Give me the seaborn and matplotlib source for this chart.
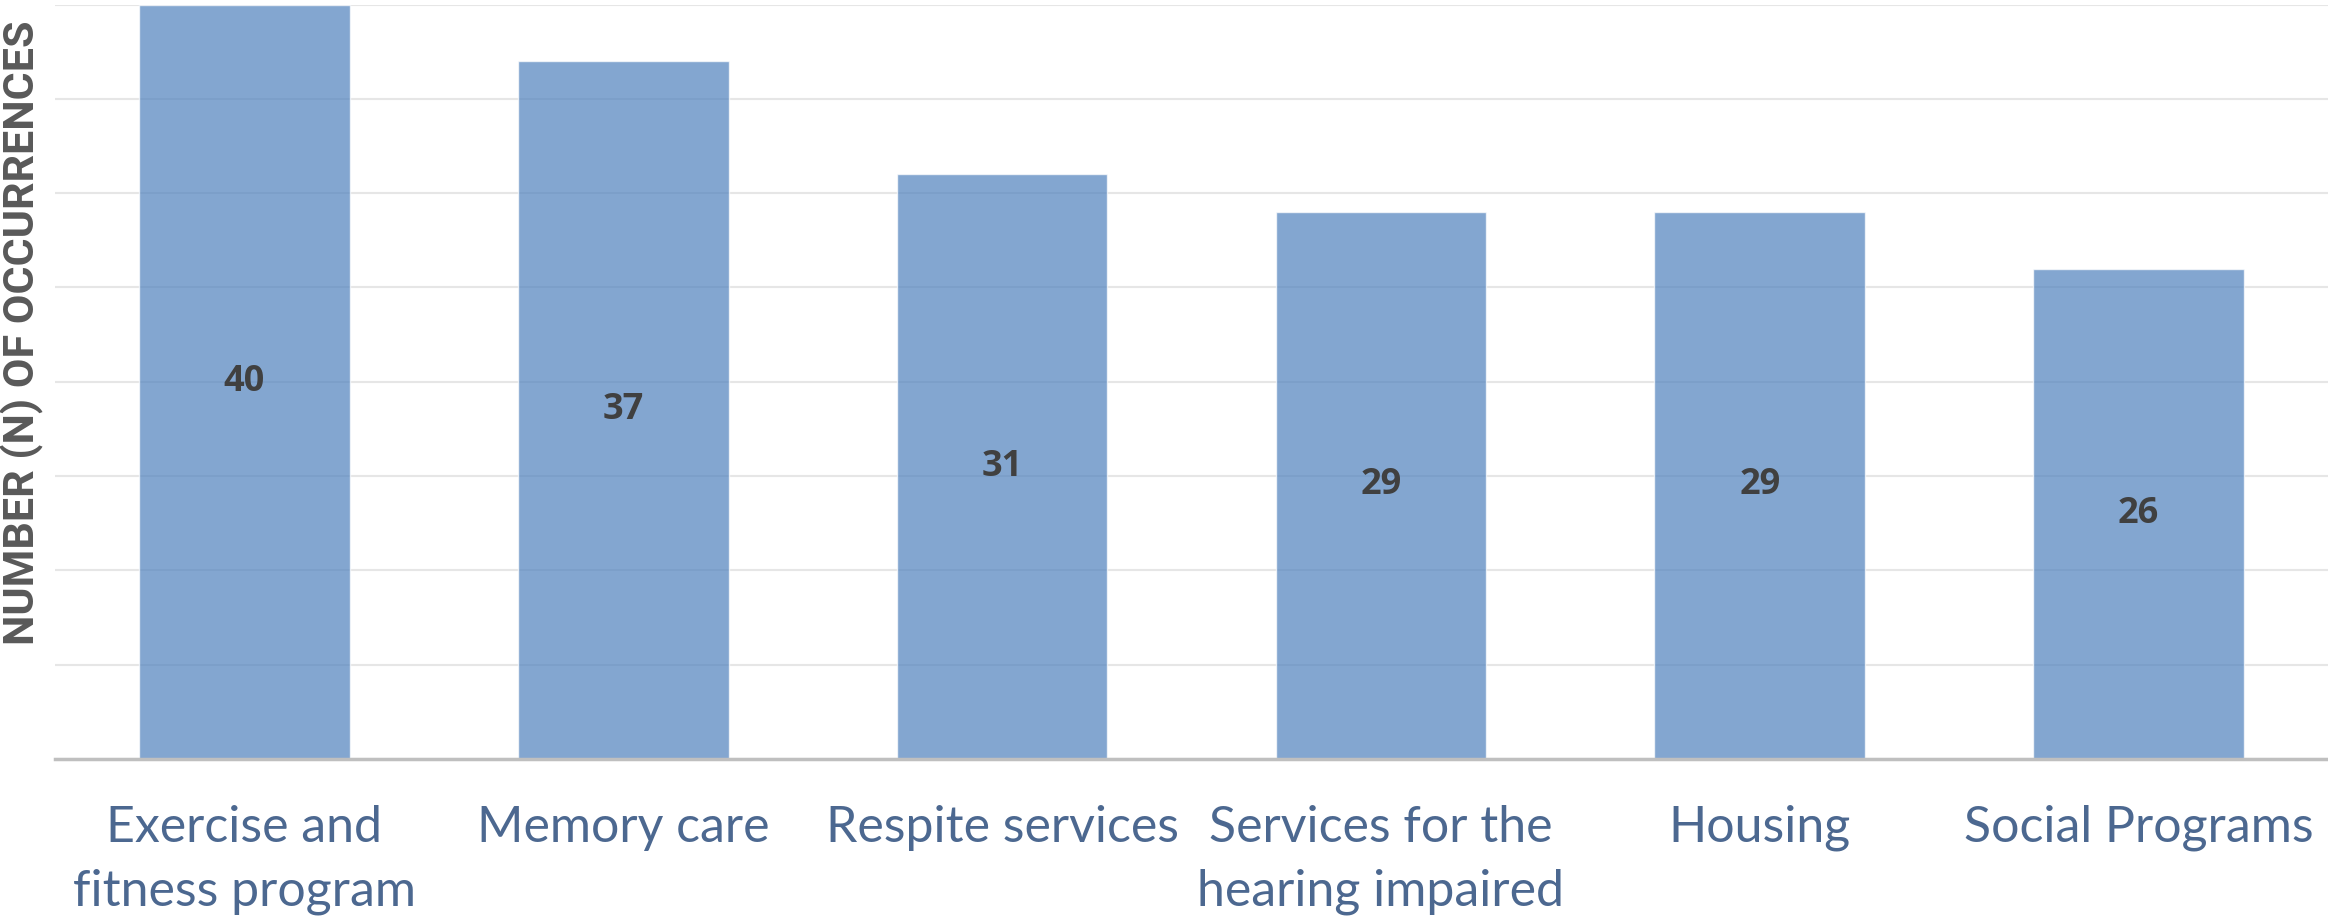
import matplotlib
matplotlib.use("Agg")
import matplotlib.pyplot as plt
import seaborn as sns
import pandas as pd

categories = ["Exercise and\nfitness program", "Memory care", "Respite services",
              "Services for the\nhearing impaired", "Housing", "Social Programs"]
values = [40, 37, 31, 29, 29, 26]
y_label = "NUMBER (N) OF OCCURRENCES"

df = pd.DataFrame({"category": categories, "value": values})

sns.set_theme(style="white")
plt.rcParams['font.family'] = ['Lato', 'DejaVu Sans']

fig = plt.figure(figsize=(23.28, 9.18), dpi=100)
ax = fig.add_axes([55/2328, 1 - 759/918, 1 - 55/2328, (759 - 4.5)/918])

sns.barplot(data=df, x="category", y="value", color="#4F81BD", alpha=0.7,
            width=0.556, saturation=1, ax=ax, zorder=2)

ax.set_xlim(-0.5, len(categories) - 0.5)
ax.set_ylim(0, 40)
ax.set_yticks(range(0, 41, 5))
ax.set_yticklabels([])
ax.tick_params(axis='y', length=0)
ax.grid(axis='y', color='#E6E6E6', linewidth=1.5, zorder=0)
ax.set_axisbelow(True)
for s in ['top', 'right', 'left']:
    ax.spines[s].set_visible(False)
ax.spines['bottom'].set_color('#BFBFBF')
ax.spines['bottom'].set_linewidth(2.5)

ax.set_xlabel("")
ax.tick_params(axis='x', length=0, pad=33, labelsize=36, labelcolor='#4C6890')
for lab in ax.get_xticklabels():
    lab.set_linespacing(1.48)

for p, v in zip(ax.patches, values):
    ax.text(p.get_x() + p.get_width() / 2, v / 2, str(v), ha='center', va='center',
            fontsize=26, fontweight='bold', color='#404040', family=['Open Sans', 'DejaVu Sans'])

ax.set_ylabel(y_label, fontsize=31, fontweight='bold', color='#595959',
              family=['Roboto', 'DejaVu Sans'], va='center')
ax.yaxis.set_label_coords(-0.0145, 0.565)

fig.savefig("out.png", dpi=100)
